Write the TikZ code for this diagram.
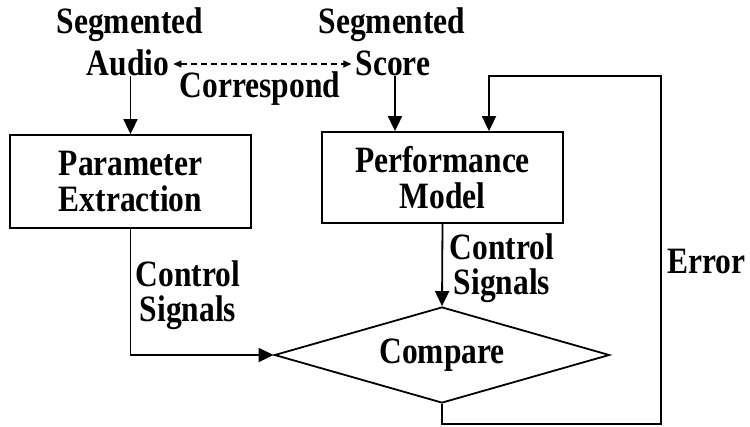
\documentclass[tikz,border=0pt]{standalone}
\usepackage{fontspec}
\usepackage{graphicx}
\setmainfont{Liberation Serif}
\usetikzlibrary{arrows.meta,shapes.geometric}
% tall bold lettering
\newcommand{\tallword}[1]{\scalebox{1}[1.18]{#1}}
\tikzset{
  lbl/.style={font=\bfseries\fontsize{31.5}{35.5}\selectfont, inner sep=0pt, align=center},
  blk/.style={draw, line width=1.8pt, lbl},
  arr/.style={line width=1.8pt, -{Triangle[length=15pt,width=14pt]}},
  corr/.style={line width=1.3pt, dash pattern=on 6pt off 4pt,
    {Triangle[length=8pt,width=7pt]}-{Triangle[length=8pt,width=7pt]}},
}
\begin{document}
\begin{tikzpicture}[x=1pt,y=-1pt]
\useasboundingbox (0,0) rectangle (750,426);

% inputs
\node[lbl] (segA) at (130,25) {\tallword{Segmented}};
\node[lbl] (audio) at (128,63) {\tallword{Audio}};
\node[lbl] (segS) at (392,25) {\tallword{Segmented}};
\node[lbl] (score) at (393,63) {\tallword{Score}};
\node[lbl] (corrlbl) at (260,89) {\tallword{Correspond}};

% blocks
\node[blk, minimum width=241pt, minimum height=93pt] (pe) at (130.5,181.5) {\tallword{Parameter}\\\tallword{Extraction}};
\node[blk, minimum width=241pt, minimum height=91pt] (pm) at (442.5,177.5) {\tallword{Performance}\\\tallword{Model}};
\node[blk, diamond, shape aspect=3.5, minimum width=335pt, minimum height=96pt] (cmp) at (442,355) {\tallword{Compare}};

% labels on connectors
\node[lbl] (csL) at (188,295) {\tallword{Control}\\\tallword{Signals}};
\node[lbl] (csR) at (502,268) {\tallword{Control}\\\tallword{Signals}};
\node[lbl, anchor=west] (err) at (667,262) {\tallword{Error}};

% feedback corners
\coordinate (fbR) at (661,424);
\coordinate (fbT) at (661,76);
\coordinate (fbX) at (489,0);

% connectors
\path (audio.east) ++(4,1) coordinate (cA);
\path (score.west) ++(-4,1) coordinate (cS);
\draw[corr] (cA) -- (cS);
\draw[arr] (audio.south -| pe.north) -- (pe.north);
\path (score.south) ++(2,0) coordinate (sS);
\draw[arr] (sS) -- (sS |- pm.north);
\draw[arr] (pe.south) |- (cmp.west);
\draw[arr] (pm.south) -- (cmp.north);
\draw[arr] (cmp.south) |- (fbR) -- (fbT) -| (pm.north -| fbX);
\end{tikzpicture}
\end{document}
